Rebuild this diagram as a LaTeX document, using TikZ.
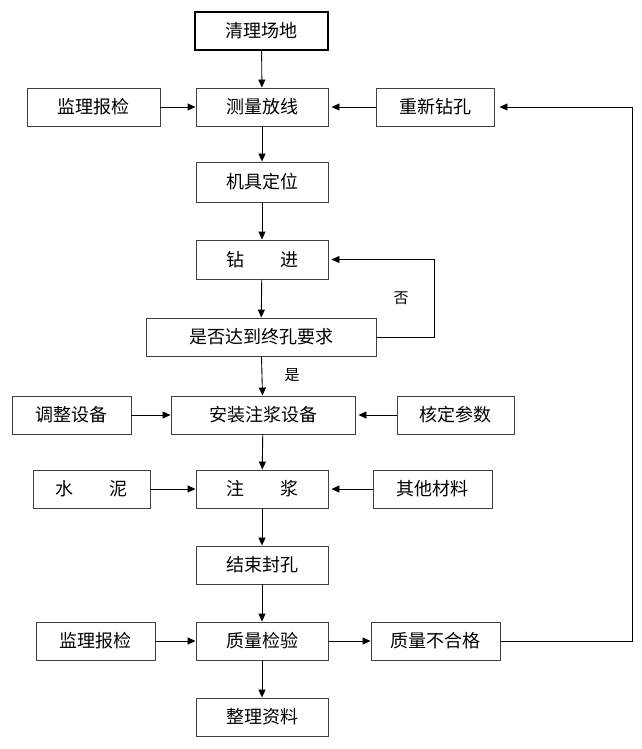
\documentclass[tikz,border=0pt]{standalone}
\usepackage{fontspec}
\newfontfamily\cjk{Noto Sans CJK SC}
\usetikzlibrary{arrows.meta}
\begin{document}
\begin{tikzpicture}[x=1pt,y=-1pt,
  box/.style={draw=black!75,line width=0.9pt,minimum height=38pt,inner sep=0pt,font=\cjk\fontsize{18}{18}\selectfont},
  arr/.style={draw=black,line width=0.9pt,-{Triangle[length=8pt,width=7pt]}},
  lbl/.style={font=\cjk\fontsize{15}{15}\selectfont,inner sep=0pt}]
\useasboundingbox (0,0) rectangle (641,749);
\node[box,draw=black,line width=1.2pt,minimum width=133pt] (qlcd) at (261.5,31) {清理场地};
\node[box,minimum width=133pt] (jl1) at (93.5,107) {监理报检};
\node[box,minimum width=132pt] (clfx) at (262,107) {测量放线};
\node[box,minimum width=118pt] (cxzk) at (435,107) {重新钻孔};
\node[box,minimum width=132pt,minimum height=40pt] (jjdw) at (262,182) {机具定位};
\node[box,minimum width=132pt,minimum height=39pt] (zj) at (262,259.5) {钻\hspace{2em}进};
\node[box,minimum width=230pt] (sfdd) at (261,337) {是否达到终孔要求};
\node[box,minimum width=119pt] (tzsb) at (71.5,415) {调整设备};
\node[box,minimum width=184pt] (azzj) at (263,415) {安装注浆设备};
\node[box,minimum width=117pt] (hdcs) at (455.5,415) {核定参数};
\node[box,minimum width=117pt] (sn) at (91.5,489) {水\hspace{2em}泥};
\node[box,minimum width=132pt] (zjg) at (262,489) {注\hspace{2em}浆};
\node[box,minimum width=119pt] (qtcl) at (432.5,489) {其他材料};
\node[box,minimum width=132pt] (jsfk) at (262,565) {结束封孔};
\node[box,minimum width=119pt] (jl2) at (95.5,641) {监理报检};
\node[box,minimum width=132pt] (zljy) at (262,641) {质量检验};
\node[box,minimum width=129pt] (zlbhg) at (435.5,641) {质量不合格};
\node[box,minimum width=132pt] (zlzl) at (262,717) {整理资料};
\node[lbl] (fou) at (401,298) {否};
\node[lbl] (shi) at (292,375) {是};
\coordinate (c1) at (434,337);
\coordinate (c2) at (632,641);
\draw[arr] (qlcd) -- (clfx);
\draw[arr] (jl1) -- (clfx);
\draw[arr] (cxzk.west) -- ([xshift=3pt]clfx.east);
\draw[arr] (clfx) -- (jjdw);
\draw[arr] (jjdw) -- (zj);
\draw[arr] (zj) -- (sfdd);
\draw[arr] (sfdd.east) -- (c1) |- ([xshift=3pt]zj.east);
\draw[arr] (sfdd) -- (azzj);
\draw[arr] (tzsb) -- (azzj);
\draw[arr] (hdcs.west) -- ([xshift=3pt]azzj.east);
\draw[arr] (azzj) -- (zjg);
\draw[arr] (sn) -- (zjg);
\draw[arr] (qtcl.west) -- ([xshift=3pt]zjg.east);
\draw[arr] (zjg) -- (jsfk);
\draw[arr] (jsfk) -- (zljy);
\draw[arr] (jl2) -- (zljy);
\draw[arr] (zljy) -- (zlbhg);
\draw[arr] (zljy) -- (zlzl);
\draw[arr] (zlbhg.east) -- (c2) |- ([xshift=5pt]cxzk.east);
\end{tikzpicture}
\end{document}
